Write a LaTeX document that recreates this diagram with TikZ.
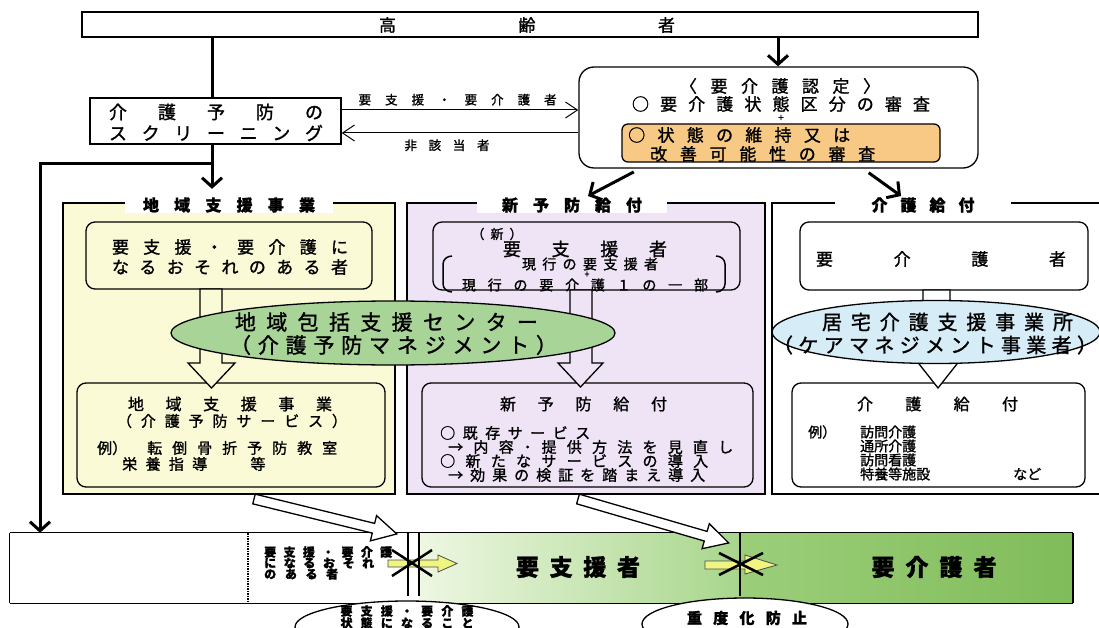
\documentclass[tikz,border=0pt]{standalone}
\usepackage{fontspec}
\setmainfont{Noto Sans CJK JP}[FakeBold=1.3]
\usetikzlibrary{arrows.meta,calc,shapes.geometric}
\makeatletter
\newcommand\spr[2]{\hbox to #1pt{\let\spr@sep\relax\@tfor\spr@ch:=#2\do{\spr@sep\spr@ch\let\spr@sep\hfil}}}
\makeatother
\definecolor{pyel}{RGB}{250,250,214}
\definecolor{plav}{RGB}{238,228,246}
\definecolor{egreen}{RGB}{168,212,152}
\definecolor{eblue}{RGB}{214,236,246}
\definecolor{orng}{RGB}{248,201,132}
\definecolor{barA}{RGB}{238,247,226}
\definecolor{barB}{RGB}{168,214,140}
\definecolor{barC}{RGB}{156,206,122}
\definecolor{barD}{RGB}{128,188,90}
\definecolor{yarrow}{RGB}{240,244,128}
\tikzset{
  bx/.style={draw, line width=1.3pt, inner sep=0pt},
  rbx/.style={bx, rounded corners=9pt},
  panel/.style={draw, line width=1.8pt, inner sep=0pt},
  ttl/.style={fill=white, inner sep=0pt, minimum height=16pt, font=\bfseries\fontsize{16pt}{18pt}\selectfont},
  tx/.style={inner sep=0pt, font=\fontsize{#1pt}{#1pt}\selectfont},
  tx/.default=14,
  txb/.style={inner sep=0pt, font=\bfseries\fontsize{#1pt}{#1pt}\selectfont},
  txb/.default=14,
  thickarr/.style={line width=3pt, line join=miter, -{Straight Barb[length=9pt,width=20pt]}},
  thickline/.style={line width=3pt},
  thinarr/.style={line width=1pt, -{Straight Barb[length=12pt,width=16pt]}},
  hollow/.style={draw, line width=1.3pt, line join=miter},
  ell/.style={ellipse, draw, line width=1.3pt, inner sep=0pt},
  yarr/.style={draw=black!70, line width=0.8pt, fill=yarrow},
  xline/.style={line width=2.5pt},
  vline/.style={line width=2.5pt},
}
\begin{document}
\begin{tikzpicture}[x=1pt,y=-1pt]
\useasboundingbox (0,0) rectangle (1099,628);
\clip (0,0) rectangle (1099,628);
\fill[white] (0,0) rectangle (1099,628);

% ---------- top box ----------
\node[bx, minimum width=896pt, minimum height=25pt] (top) at (530,24.5) {};
\node[tx=17] (toptx) at (527,25) {\spr{296}{高齢者}};

% ---------- screening ----------
\node[bx, minimum width=251pt, minimum height=46pt] (screen) at (215.5,121) {};
\node[tx=18] (scr1) at (216,112) {\spr{214}{介護予防の}};
\node[tx=18] (scr2) at (216,133) {\spr{214}{スクリーニング}};

% ---------- nintei ----------
\node[bx, rounded corners=15pt, minimum width=399pt, minimum height=101pt] (nintei) at (778.5,117.5) {};
\node[tx=17] (n1) at (780,86) {\spr{200}{〈要介護認定〉}};
\node[tx=17] (n2) at (781,104) {\spr{298}{○要介護状態区分の審査}};
\node[tx=10] (nplus) at (781,118) {+};
\node[bx, rounded corners=6pt, fill=orng, minimum width=318pt, minimum height=38pt] (orange) at (781,143) {};
\node[tx=17, anchor=west] (o1) at (628,135) {\spr{222}{○状態の維持又は}};
\node[tx=17, anchor=west] (o2) at (650,154) {\spr{225}{改善可能性の審査}};

% ---------- panels ----------
\node[panel, fill=pyel, minimum width=332pt, minimum height=291pt] (p1) at (229,348.5) {};
\node[panel, fill=plav, minimum width=358pt, minimum height=291pt] (p2) at (586,348.5) {};
\node[panel, fill=white, minimum width=338pt, minimum height=291pt] (p3) at (941,348.5) {};
\node[ttl, minimum width=208pt] (t1) at (229,205) {\spr{172}{地域支援事業}};
\node[ttl, minimum width=190pt] (t2) at (572,205) {\spr{140}{新予防給付}};
\node[ttl, minimum width=176pt] (t3) at (923,205) {\spr{103}{介護給付}};

% ---------- connectors top ----------
\coordinate (ax) at (212,0);
\coordinate (bx) at (778,0);
\coordinate (lx) at (40,0);
\coordinate (y1) at (0,110);
\coordinate (y2) at (0,133);
\draw[thickline] (top.south -| ax) -- (screen.north -| ax);
\draw[thickarr] (top.south -| bx) -- (nintei.north -| bx);
\draw[thinarr] (screen.east |- y1) -- (nintei.west |- y1)
  node[pos=0.49, above=4pt, tx=12.5] (lab1) {\spr{198}{要支援・要介護者}};
\draw[thinarr] (nintei.west |- y2) -- (screen.east |- y2)
  node[pos=0.555, below=6pt, tx=12.5] (lab2) {\spr{85}{非該当者}};
\draw[thickarr, shorten >=8pt] (screen.south -| ax) -- (t1.north -| ax);

% ---------- panel 1 ----------
\node[rbx, minimum width=286pt, minimum height=67pt] (a1) at (229,255.5) {};
\node[tx=17] (a1t1) at (230,247) {\spr{236}{要支援・要介護に}};
\node[tx=17] (a1t2) at (230,267) {\spr{236}{なるおそれのある者}};
\node[rbx, minimum width=308pt, minimum height=104pt] (a2) at (231,435) {};
\node[tx=16] (a2t1) at (230,404) {\spr{204}{地域支援事業}};
\node[tx=15] (a2t2) at (232,421) {\spr{230}{（介護予防サービス）}};
\node[tx=15, anchor=west] (a2t3) at (97,448) {例）};
\node[tx=15, anchor=west] (a2t4) at (147,448) {\spr{190}{転倒骨折予防教室}};
\node[tx=15, anchor=west] (a2t5) at (122,464) {\spr{85}{栄養指導}};
\node[tx=15] (a2t6) at (258,464) {等};
\draw[hollow, fill=pyel] (200,289) -- (200,363) -- (188,363) -- (211.5,388) -- (235,363) -- (222,363) -- (222,289) -- cycle;

% ---------- panel 2 ----------
\node[rbx, minimum width=307pt, minimum height=68pt] (b1) at (586.5,256) {};
\node[tx=13] (b1t0) at (497,234) {\spr{51}{（新）}};
\node[tx=18] (b1t1) at (585,249) {\spr{164}{要支援者}};
\node[tx=14] (b1t2) at (590,264) {\spr{136}{現行の要支援者}};
\node[tx=9] (b1t3) at (587,274.5) {+};
\node[tx=14] (b1t4) at (585,285) {\spr{246}{現行の要介護１の一部}};
\draw[line width=1.5pt] (452,256) to[out=180,in=90] (443,264) -- (443,284) to[out=-90,in=180] (452,292);
\draw[line width=1.5pt] (716,256) to[out=0,in=90] (725,264) -- (725,284) to[out=-90,in=0] (716,292);
\node[rbx, minimum width=331pt, minimum height=104pt] (b2) at (587.5,435) {};
\node[tx=16] (b2t1) at (583.5,404) {\spr{167}{新予防給付}};
\node[tx=15, anchor=west] (b2t2) at (440,433) {\spr{150}{○既存サービス}};
\node[tx=15, anchor=west] (b2t3) at (448,447) {\spr{285}{→内容･提供方法を見直し}};
\node[tx=15, anchor=west] (b2t4) at (440,461) {\spr{268}{○新たなサービスの導入}};
\node[tx=15, anchor=west] (b2t5) at (448,475) {\spr{257}{→効果の検証を踏まえ導入}};
\draw[hollow, fill=plav] (570,290) -- (570,363) -- (558,363) -- (580.5,387) -- (603,363) -- (592,363) -- (592,290) -- cycle;

% ---------- panel 3 ----------
\node[rbx, fill=white, minimum width=288pt, minimum height=68pt] (c1) at (944,256) {};
\node[tx=17] (c1t) at (941,259) {\spr{250}{要介護者}};
\node[rbx, fill=white, minimum width=293pt, minimum height=104pt] (c2) at (938.5,435) {};
\node[tx=16] (c2t1) at (937.5,404) {\spr{161}{介護給付}};
\node[tx=14, anchor=west] (c2t2) at (808,432) {例）};
\node[tx=14, anchor=west] (c2t3) at (860,432) {訪問介護};
\node[tx=14, anchor=west] (c2t4) at (860,446) {通所介護};
\node[tx=14, anchor=west] (c2t5) at (860,460) {訪問看護};
\node[tx=14, anchor=west] (c2t6) at (860,474) {特養等施設};
\node[tx=14, anchor=west] (c2t7) at (1013,474) {など};
\draw[hollow, fill=white] (923,290) -- (923,355) -- (912,355) -- (938,388) -- (964,355) -- (950,355) -- (950,290) -- cycle;

% ---------- ellipses ----------
\node[ell, fill=egreen, minimum width=444pt, minimum height=64pt] (e1) at (393,333) {};
\node[tx=21] (e1t1) at (386.5,322) {\spr{303}{地域包括支援センター}};
\node[tx=21] (e1t2) at (393.5,345) {\spr{327}{（介護予防マネジメント）}};
\node[ell, fill=eblue, minimum width=328pt, minimum height=63pt] (e2) at (936,332) {};
\node[tx=20] (e2t1) at (947.5,322) {\spr{251}{居宅介護支援事業所}};
\node[tx=20] (e2t2) at (935,345) {\spr{324}{（ケアマネジメント事業者）}};

% ---------- diagonal arrows from nintei ----------
\coordinate (d1x) at (640,0);
\coordinate (d1e) at (588,196);
\coordinate (d2x) at (863,0);
\coordinate (d2e) at (901,196);
\draw[thickarr, shorten <=7pt] (nintei.south -| d1x) -- (d1e);
\draw[thickarr, shorten <=7pt] (nintei.south -| d2x) -- (d2e);

% ---------- bottom bar ----------
\node[inner sep=0pt, minimum width=1063pt, minimum height=70pt] (bar) at (541.5,568) {};
\fill[white] (10,533) rectangle (419,603);
\shade[left color=barA, right color=barB] (419,533) rectangle (740,603);
\shade[left color=barC, right color=barD] (740,533) rectangle (1073,603);
\draw[line width=1pt] (bar.north west) -- (bar.north east);
\draw[line width=1pt] (bar.south west) -- (bar.south east);
\draw[line width=1pt] (bar.north west) -- (bar.south west);
\draw[line width=2.5pt] (bar.north east) -- (bar.south east);
\draw[line width=1.5pt, dash pattern=on 1.5pt off 1pt] (248,533) -- (248,603);

\draw[thickarr] ($(screen.south -| ax)+(0,19)$) -| (bar.north -| lx);

\node[txb=12, anchor=west] (bt1) at (264,552) {\spr{128}{要支援・要介護}};
\node[txb=12, anchor=west] (bt2) at (264,563) {\spr{110}{になるおそれ}};
\node[txb=12, anchor=west] (bt3) at (264,574) {\spr{74}{のある者}};
\node[txb=23] (bt4) at (578,567) {\spr{124}{要支援者}};
\node[txb=23] (bt5) at (934,567) {\spr{125}{要介護者}};

% crossing 1
\draw[yarr] (388,560) -- (438,560) -- (438,555) -- (457,563.5) -- (438,572) -- (438,567) -- (388,567) -- cycle;
\draw[vline] (408,533) -- (408,596);
\draw[vline] (419,533) -- (419,596);
\draw[xline] (392,550) -- (432,576);
\draw[xline] (392,576) -- (432,550);
% crossing 2
\draw[yarr] (705,561) -- (745,561) -- (745,555) -- (777,565) -- (745,574) -- (745,569) -- (705,569) -- cycle;
\draw[vline] (740,533) -- (740,596);
\draw[xline] (719,553) -- (763,575);
\draw[xline] (719,575) -- (763,553);

% diagonal hollow arrows
\begin{scope}[shift={(254,499)}, rotate=-13.75]
\draw[hollow, fill=white] (0,-5) -- (123,-5) -- (123,-13) -- (147,0) -- (123,13) -- (123,5) -- (0,5) -- cycle;
\end{scope}
\begin{scope}[shift={(578,499)}, rotate=-16.25]
\draw[hollow, fill=white] (0,-5) -- (133,-5) -- (133,-13) -- (157,0) -- (133,13) -- (133,5) -- (0,5) -- cycle;
\end{scope}

% bottom ellipses
\node[ell, fill=white, minimum width=224pt, minimum height=52pt] (e3) at (407,627) {};
\node[txb=12] (e3t1) at (407,611) {\spr{133}{要支援・要介護}};
\node[txb=12] (e3t2) at (407,623) {\spr{133}{状態になること}};
\node[ell, fill=white, minimum width=206pt, minimum height=52pt] (e4) at (745,624) {};
\node[txb=15] (e4t) at (747,618) {\spr{120}{重度化防止}};
\end{tikzpicture}
\end{document}
